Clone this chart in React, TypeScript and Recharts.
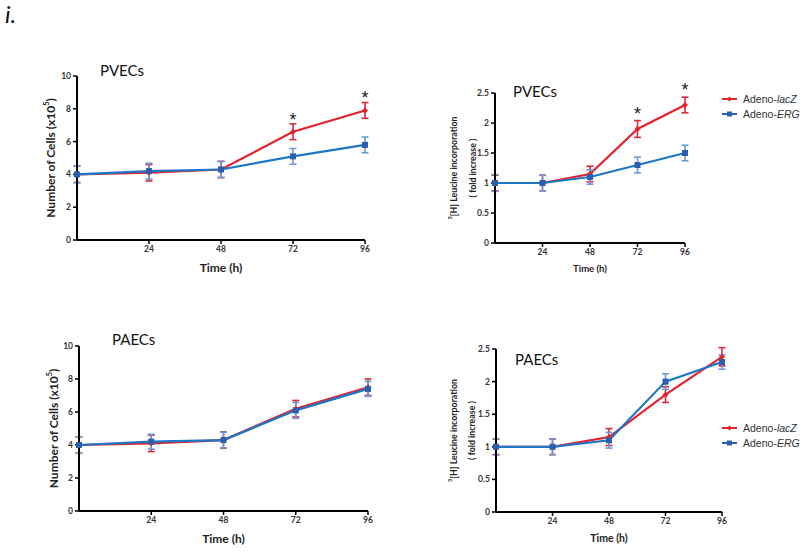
import {
  LineChart,
  Line,
  XAxis,
  YAxis,
  ErrorBar,
  Legend,
  LabelList,
  Label,
} from "recharts";

const hours = [0, 24, 48, 72, 96];
const hourTicks = [24, 48, 72, 96];
const cellTicks = [0, 2, 4, 6, 8, 10];
const foldTicks = [0, 0.5, 1, 1.5, 2, 2.5];

// PVECs - number of cells (x10^5)
const pvecCellLacZ = [4.0, 4.1, 4.3, 6.6, 7.9];
const pvecCellLacZSd = [0.5, 0.5, 0.5, 0.48, 0.48];
const pvecCellErg = [4.0, 4.2, 4.3, 5.1, 5.8];
const pvecCellErgSd = [0.5, 0.48, 0.48, 0.48, 0.48];
const pvecCellStars = ["", "", "", "*", "*"];

// PVECs - 3H leucine incorporation
const pvecLeuLacZ = [1.0, 1.0, 1.15, 1.9, 2.3];
const pvecLeuLacZSd = [0.13, 0.13, 0.13, 0.14, 0.13];
const pvecLeuErg = [1.0, 1.0, 1.1, 1.3, 1.5];
const pvecLeuErgSd = [0.14, 0.13, 0.12, 0.13, 0.13];
const pvecLeuStars = ["", "", "", "*", "*"];

// PAECs - number of cells
const paecCellLacZ = [4.0, 4.1, 4.3, 6.2, 7.5];
const paecCellLacZSd = [0.5, 0.5, 0.5, 0.5, 0.5];
const paecCellErg = [4.0, 4.2, 4.3, 6.1, 7.4];
const paecCellErgSd = [0.5, 0.45, 0.48, 0.48, 0.45];

// PAECs - 3H leucine incorporation
const paecLeuLacZ = [1.0, 1.0, 1.15, 1.8, 2.38];
const paecLeuLacZSd = [0.12, 0.12, 0.13, 0.12, 0.14];
const paecLeuErg = [1.0, 1.0, 1.1, 2.0, 2.3];
const paecLeuErgSd = [0.12, 0.12, 0.12, 0.12, 0.11];
const noStars = ["", "", "", "", ""];

const seriesOrder = ["lacZ", "erg"];

const RED = "#e4222b";
const RED_ERR = "#dc2a3c";
const BLUE = "#1d76c6";
const BLUE_ERR = "#6d9ad6";
const BLUE_MARK = "#2b5fae";
const FONT = "Lato, 'Liberation Sans', sans-serif";
const ARIAL = "'Liberation Sans', Arial, sans-serif";

const rows = (lacZ, lacZSd, erg, ergSd, stars) =>
  hours.map((hour, i) => ({
    hour,
    lacZ: lacZ[i],
    lacZSd: lacZSd[i],
    erg: erg[i],
    ergSd: ergSd[i],
    star: stars[i],
  }));

const Diamond = (p) => {
  const { cx, cy, index } = p;
  if (cx == null || cy == null) return <g key={index} />;
  return (
    <polygon
      key={index}
      points={`${cx},${cy - 3} ${cx + 3},${cy} ${cx},${cy + 3} ${cx - 3},${cy}`}
      fill={RED}
    />
  );
};

const Square = (p) => {
  const { cx, cy, index } = p;
  if (cx == null || cy == null) return <g key={index} />;
  return <rect key={index} x={cx - 3} y={cy - 3} width={6} height={6} fill={BLUE_MARK} />;
};

const cellsLabel = [
  <tspan key="a">Number of Cells (x10</tspan>,
  <tspan key="b" fontSize="0.62em" dy={-4}>5</tspan>,
  <tspan key="c" dy={4}>)</tspan>,
];
const leucineLabel = [
  <tspan key="a" fontSize="0.62em" dy={-3}>3</tspan>,
  <tspan key="b" dy={3}>[H] Leucine incorporation</tspan>,
];
const foldLabel = "( fold increase )";

function SeriesLegend({ payload }) {
  const items = [...(payload || [])].sort(
    (a, b) => seriesOrder.indexOf(String(a.dataKey)) - seriesOrder.indexOf(String(b.dataKey))
  );
  return (
    <div style={{ fontFamily: ARIAL, fontSize: 10.5, color: "#333" }}>
      {items.map((entry) => {
        const [pre, gene] = String(entry.value).split("-");
        const isRed = entry.dataKey === "lacZ";
        return (
          <div key={entry.value} style={{ display: "flex", alignItems: "center", height: 15 }}>
            <svg width={21} height={8}>
              <line x1={0} y1={4} x2={15} y2={4} stroke={isRed ? RED : BLUE_MARK} strokeWidth={2} />
              {isRed ? (
                <polygon points="7.5,1.5 10,4 7.5,6.5 5,4" fill={RED} />
              ) : (
                <rect x={5} y={1.5} width={5} height={5} fill={BLUE_MARK} />
              )}
            </svg>
            <span>
              {pre}-<i>{gene}</i>
            </span>
          </div>
        );
      })}
    </div>
  );
}

function Panel({
  data,
  left,
  top,
  width,
  height,
  margin,
  yDomain,
  yTicks,
  yLines,
  yOffsets,
  yFont,
  xFont,
  xDy,
  starLift,
  legendAt,
}) {
  return (
    <div style={{ position: "absolute", left, top }}>
      <LineChart width={width} height={height} data={data} margin={margin}>
        <XAxis
          type="number"
          dataKey="hour"
          domain={[0, 96]}
          ticks={hourTicks}
          interval={0}
          height={34}
          axisLine={{ stroke: "#000", strokeWidth: 2 }}
          tickLine={{ stroke: "#000", strokeWidth: 1.5 }}
          tickSize={4}
          tick={{ fontSize: 8.5, fontWeight: 700, fill: "#333", fontFamily: FONT }}
        >
          <Label
            content={(p) => {
              const vb = p.viewBox;
              return (
                <text
                  x={vb.x + vb.width / 2}
                  y={vb.y + xDy}
                  textAnchor="middle"
                  fontSize={xFont}
                  fontWeight={700}
                  fontFamily={FONT}
                  fill="#222"
                >
                  Time (h)
                </text>
              );
            }}
          />
        </XAxis>
        <YAxis
          type="number"
          domain={yDomain}
          ticks={yTicks}
          interval={0}
          width={30}
          allowDataOverflow
          axisLine={{ stroke: "#000", strokeWidth: 2 }}
          tickLine={{ stroke: "#000", strokeWidth: 1.5 }}
          tickSize={4}
          tick={{ fontSize: 8.5, fontWeight: 700, fill: "#333", fontFamily: FONT }}
        >
          <Label
            content={(p) => {
              const vb = p.viewBox;
              const cy = vb.y + vb.height / 2;
              return (
                <g>
                  {yLines.map((t, i) => {
                    const cx = vb.x + yOffsets[i];
                    return (
                      <text
                        key={i}
                        x={cx}
                        y={cy}
                        transform={`rotate(-90 ${cx} ${cy})`}
                        textAnchor="middle"
                        dominantBaseline="central"
                        fontSize={yFont}
                        fontWeight={700}
                        fontFamily={FONT}
                        fill="#222"
                      >
                        {t}
                      </text>
                    );
                  })}
                </g>
              );
            }}
          />
        </YAxis>
        {legendAt && (
          <Legend
            layout="horizontal"
            verticalAlign="middle"
            align="center"
            content={<SeriesLegend />}
            wrapperStyle={{ left: legendAt[0], top: legendAt[1], width: 80 }}
          />
        )}
        <Line
          dataKey="lacZ"
          name="Adeno-lacZ"
          stroke={RED}
          strokeWidth={2.2}
          dot={Diamond}
          activeDot={false}
          isAnimationActive={false}
        >
          <ErrorBar dataKey="lacZSd" width={3.5} stroke={RED_ERR} strokeWidth={1.6} isAnimationActive={false} />
          <LabelList
            dataKey="star"
            content={(p) =>
              p.value ? (
                <text
                  x={p.x}
                  y={p.y - starLift}
                  textAnchor="middle"
                  fontSize={18}
                  fontFamily={ARIAL}
                  fill="#222"
                >
                  *
                </text>
              ) : null
            }
          />
        </Line>
        <Line
          dataKey="erg"
          name="Adeno-ERG"
          stroke={BLUE}
          strokeWidth={2.2}
          dot={Square}
          activeDot={false}
          isAnimationActive={false}
        >
          <ErrorBar dataKey="ergSd" width={3.5} stroke={BLUE_ERR} strokeWidth={1.6} isAnimationActive={false} />
        </Line>
      </LineChart>
    </div>
  );
}

const titleStyle = { fontFamily: FONT, fontSize: 15, fill: "#111" };

export default function App() {
  return (
    <div style={{ position: "absolute", left: 0, top: 0, width: 800, height: 552, background: "#fff" }}>
      <Panel
        data={rows(pvecCellLacZ, pvecCellLacZSd, pvecCellErg, pvecCellErgSd, pvecCellStars)}
        left={0}
        top={0}
        width={400}
        height={290}
        margin={{ top: 76, right: 35, bottom: 16, left: 47 }}
        yDomain={[0, 10]}
        yTicks={cellTicks}
        yLines={[cellsLabel]}
        yOffsets={[3]}
        yFont={12}
        xFont={12}
        xDy={32}
        starLift={6}
      />
      <Panel
        data={rows(pvecLeuLacZ, pvecLeuLacZSd, pvecLeuErg, pvecLeuErgSd, pvecLeuStars)}
        left={400}
        top={0}
        width={400}
        height={290}
        margin={{ top: 93, right: 115, bottom: 13, left: 65 }}
        yDomain={[0, 2.5]}
        yTicks={foldTicks}
        yLines={[leucineLabel, foldLabel]}
        yOffsets={[-12, 7]}
        yFont={8.8}
        xFont={9.5}
        xDy={28.5}
        starLift={9.5}
        legendAt={[322, 91.5]}
      />
      <Panel
        data={rows(paecCellLacZ, paecCellLacZSd, paecCellErg, paecCellErgSd, noStars)}
        left={0}
        top={300}
        width={400}
        height={252}
        margin={{ top: 46, right: 32, bottom: 7, left: 49 }}
        yDomain={[0, 10]}
        yTicks={cellTicks}
        yLines={[cellsLabel]}
        yOffsets={[4]}
        yFont={12}
        xFont={12}
        xDy={32}
        starLift={6}
      />
      <Panel
        data={rows(paecLeuLacZ, paecLeuLacZSd, paecLeuErg, paecLeuErgSd, noStars)}
        left={400}
        top={300}
        width={400}
        height={252}
        margin={{ top: 49, right: 78, bottom: 6, left: 66 }}
        yDomain={[0, 2.5]}
        yTicks={foldTicks}
        yLines={[leucineLabel, foldLabel]}
        yOffsets={[-13, 5]}
        yFont={8.8}
        xFont={10.5}
        xDy={29.5}
        starLift={9.5}
        legendAt={[322, 120.5]}
      />
      <svg
        width={800}
        height={552}
        style={{ position: "absolute", left: 0, top: 0, pointerEvents: "none" }}
      >
        <text x={5} y={23} fontFamily={FONT} fontStyle="italic" fontSize={24} fill="#111">
          i.
        </text>
        <text x={100} y={76} {...titleStyle}>PVECs</text>
        <text x={513} y={97} {...titleStyle}>PVECs</text>
        <text x={112} y={345} {...titleStyle}>PAECs</text>
        <text x={515} y={365} {...titleStyle}>PAECs</text>
      </svg>
    </div>
  );
}
